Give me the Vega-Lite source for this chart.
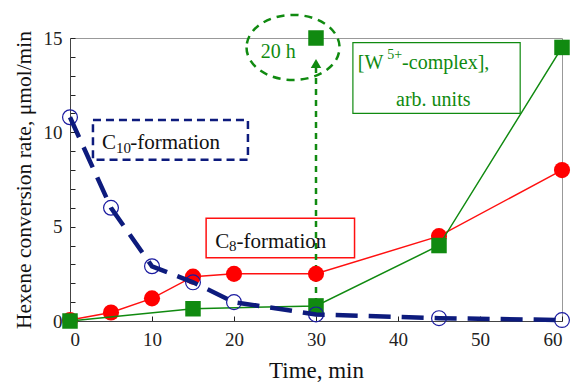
{
  "$schema": "https://vega.github.io/schema/vega-lite/v6.json",
  "width": 492,
  "height": 283,
  "autosize": {"type": "none"},
  "padding": {"left": 70, "top": 38, "right": 11, "bottom": 61},
  "config": {
    "font": "Liberation Serif",
    "view": {"stroke": "#999999", "strokeWidth": 1},
    "axis": {
      "grid": false,
      "domainColor": "#444444",
      "tickColor": "#222222",
      "tickWidth": 1,
      "labelColor": "#222222",
      "labelFontSize": 19,
      "titleFontWeight": "normal",
      "titleColor": "#111111",
      "labelFont": "Liberation Serif",
      "titleFont": "Liberation Serif"
    }
  },
  "datasets": {
    "c10": [
      {"x": 0, "y": 10.8}, {"x": 5, "y": 6.0}, {"x": 10, "y": 2.9}, {"x": 15, "y": 2.05},
      {"x": 20, "y": 1.0}, {"x": 30, "y": 0.35}, {"x": 45, "y": 0.15}, {"x": 60, "y": 0.05}
    ],
    "c8": [
      {"x": 0, "y": 0.05}, {"x": 5, "y": 0.45}, {"x": 10, "y": 1.2}, {"x": 15, "y": 2.35},
      {"x": 20, "y": 2.5}, {"x": 30, "y": 2.5}, {"x": 45, "y": 4.5}, {"x": 60, "y": 8.0}
    ],
    "w": [
      {"x": 0, "y": 0.0}, {"x": 15, "y": 0.65}, {"x": 30, "y": 0.8}, {"x": 45, "y": 4.0}, {"x": 60, "y": 14.5}
    ],
    "w20h": [{"x": 30, "y": 15}]
  },
  "encoding": {
    "x": {
      "field": "x", "type": "quantitative",
      "scale": {"domain": [0, 60], "nice": false, "zero": false},
      "axis": {"title": "Time, min", "titleFontSize": 23, "values": [0, 10, 20, 30, 40, 50, 60], "tickSize": -5, "labelPadding": 14, "titlePadding": 10}
    },
    "y": {
      "field": "y", "type": "quantitative",
      "scale": {"domain": [0, 15], "nice": false, "zero": false},
      "axis": {
        "title": "Hexene conversion rate, μmol/min",
        "titleFontSize": 21.5,
        "values": [0,1,2,3,4,5,6,7,8,9,10,11,12,13,14,15],
        "labelExpr": "datum.value % 5 == 0 ? datum.label : ''",
        "tickSize": -5, "labelPadding": 13, "titlePadding": 8
      }
    }
  },
  "layer": [
    {
      "data": {"values": [{"x": 2.8, "x2": 21.7, "y": 10.65, "y2": 8.55}]},
      "mark": {"type": "rect", "fill": "white", "stroke": "#0d1b7d", "strokeWidth": 2.5, "strokeDash": [8, 5]},
      "encoding": {"x2": {"field": "x2"}, "y2": {"field": "y2"}}
    },
    {
      "data": {"values": [{"x": 16.6, "x2": 34.7, "y": 5.45, "y2": 3.35}]},
      "mark": {"type": "rect", "fill": "white", "stroke": "#ff1010", "strokeWidth": 1.5},
      "encoding": {"x2": {"field": "x2"}, "y2": {"field": "y2"}}
    },
    {
      "data": {"values": [{"x": 34.5, "x2": 54.9, "y": 14.75, "y2": 11.0}]},
      "mark": {"type": "rect", "fill": "white", "stroke": "#108a10", "strokeWidth": 1.2},
      "encoding": {"x2": {"field": "x2"}, "y2": {"field": "y2"}}
    },
    {
      "data": {"values": [{"x": 30, "y": 0.9, "y2": 13.5}]},
      "mark": {"type": "rule", "stroke": "#108a10", "strokeWidth": 2.5, "strokeDash": [6, 5]},
      "encoding": {"y2": {"field": "y2"}}
    },
    {
      "data": {"values": [{"x": 30, "y": 13.65}]},
      "mark": {"type": "point", "shape": "triangle-up", "filled": true, "fill": "#108a10", "size": 110, "opacity": 1},
      "encoding": {}
    },
    {
      "data": {"values": [{"x": 27.2, "y": 14.5}]},
      "mark": {"type": "point", "shape": "M -1 0 A 1 0.7 0 1 0 1 0 A 1 0.7 0 1 0 -1 0 Z", "filled": false, "stroke": "#108a10", "strokeWidth": 2.5, "strokeDash": [8, 6], "size": 8650, "opacity": 1},
      "encoding": {}
    },
    {
      "data": {"name": "c8"},
      "mark": {"type": "line", "color": "#ff1010", "strokeWidth": 1.5},
      "encoding": {}
    },
    {
      "data": {"name": "c8"},
      "mark": {"type": "point", "shape": "circle", "filled": true, "fill": "#ff0000", "size": 260, "opacity": 1},
      "encoding": {}
    },
    {
      "data": {"name": "w"},
      "mark": {"type": "line", "color": "#108a10", "strokeWidth": 1.5},
      "encoding": {}
    },
    {
      "data": {"name": "w"},
      "mark": {"type": "point", "shape": "square", "filled": true, "fill": "#108a10", "size": 240, "opacity": 1},
      "encoding": {}
    },
    {
      "data": {"name": "w20h"},
      "mark": {"type": "point", "shape": "square", "filled": true, "fill": "#108a10", "size": 240, "opacity": 1},
      "encoding": {}
    },
    {
      "data": {"name": "c10"},
      "mark": {"type": "point", "shape": "circle", "filled": false, "stroke": "#1a1aa0", "strokeWidth": 1.2, "size": 220, "opacity": 1},
      "encoding": {}
    },
    {
      "data": {"name": "c10"},
      "mark": {"type": "line", "color": "#0d1b7d", "strokeWidth": 4.5, "strokeDash": [22, 11]},
      "encoding": {}
    },
    {
      "data": {"values": [
        {"x": 3.9, "y": 9.14, "t": "C"},
        {"x": 7.35, "y": 9.14, "t": "-formation"},
        {"x": 17.7, "y": 3.89, "t": "C"},
        {"x": 20.3, "y": 3.89, "t": "-formation"}
      ]},
      "mark": {"type": "text", "fontSize": 21, "color": "#111111", "align": "left", "baseline": "alphabetic"},
      "encoding": {"text": {"field": "t"}}
    },
    {
      "data": {"values": [
        {"x": 5.6, "y": 8.9, "t": "10"},
        {"x": 19.4, "y": 3.7, "t": "8"}
      ]},
      "mark": {"type": "text", "fontSize": 15, "color": "#111111", "align": "left", "baseline": "alphabetic"},
      "encoding": {"text": {"field": "t"}}
    },
    {
      "data": {"values": [
        {"x": 35.1, "y": 13.38, "t": "[W"},
        {"x": 40.5, "y": 13.38, "t": "-complex],"}
      ]},
      "mark": {"type": "text", "fontSize": 20, "color": "#108a10", "align": "left", "baseline": "alphabetic"},
      "encoding": {"text": {"field": "t"}}
    },
    {
      "data": {"values": [
        {"x": 38.7, "y": 13.9, "t": "5+"}
      ]},
      "mark": {"type": "text", "fontSize": 14, "color": "#108a10", "align": "left", "baseline": "alphabetic"},
      "encoding": {"text": {"field": "t"}}
    },
    {
      "data": {"values": [
        {"x": 44.3, "y": 11.42, "t": "arb. units"},
        {"x": 25.4, "y": 13.96, "t": "20 h"}
      ]},
      "mark": {"type": "text", "fontSize": 20, "color": "#108a10", "align": "center", "baseline": "alphabetic"},
      "encoding": {"text": {"field": "t"}}
    }
  ]
}
